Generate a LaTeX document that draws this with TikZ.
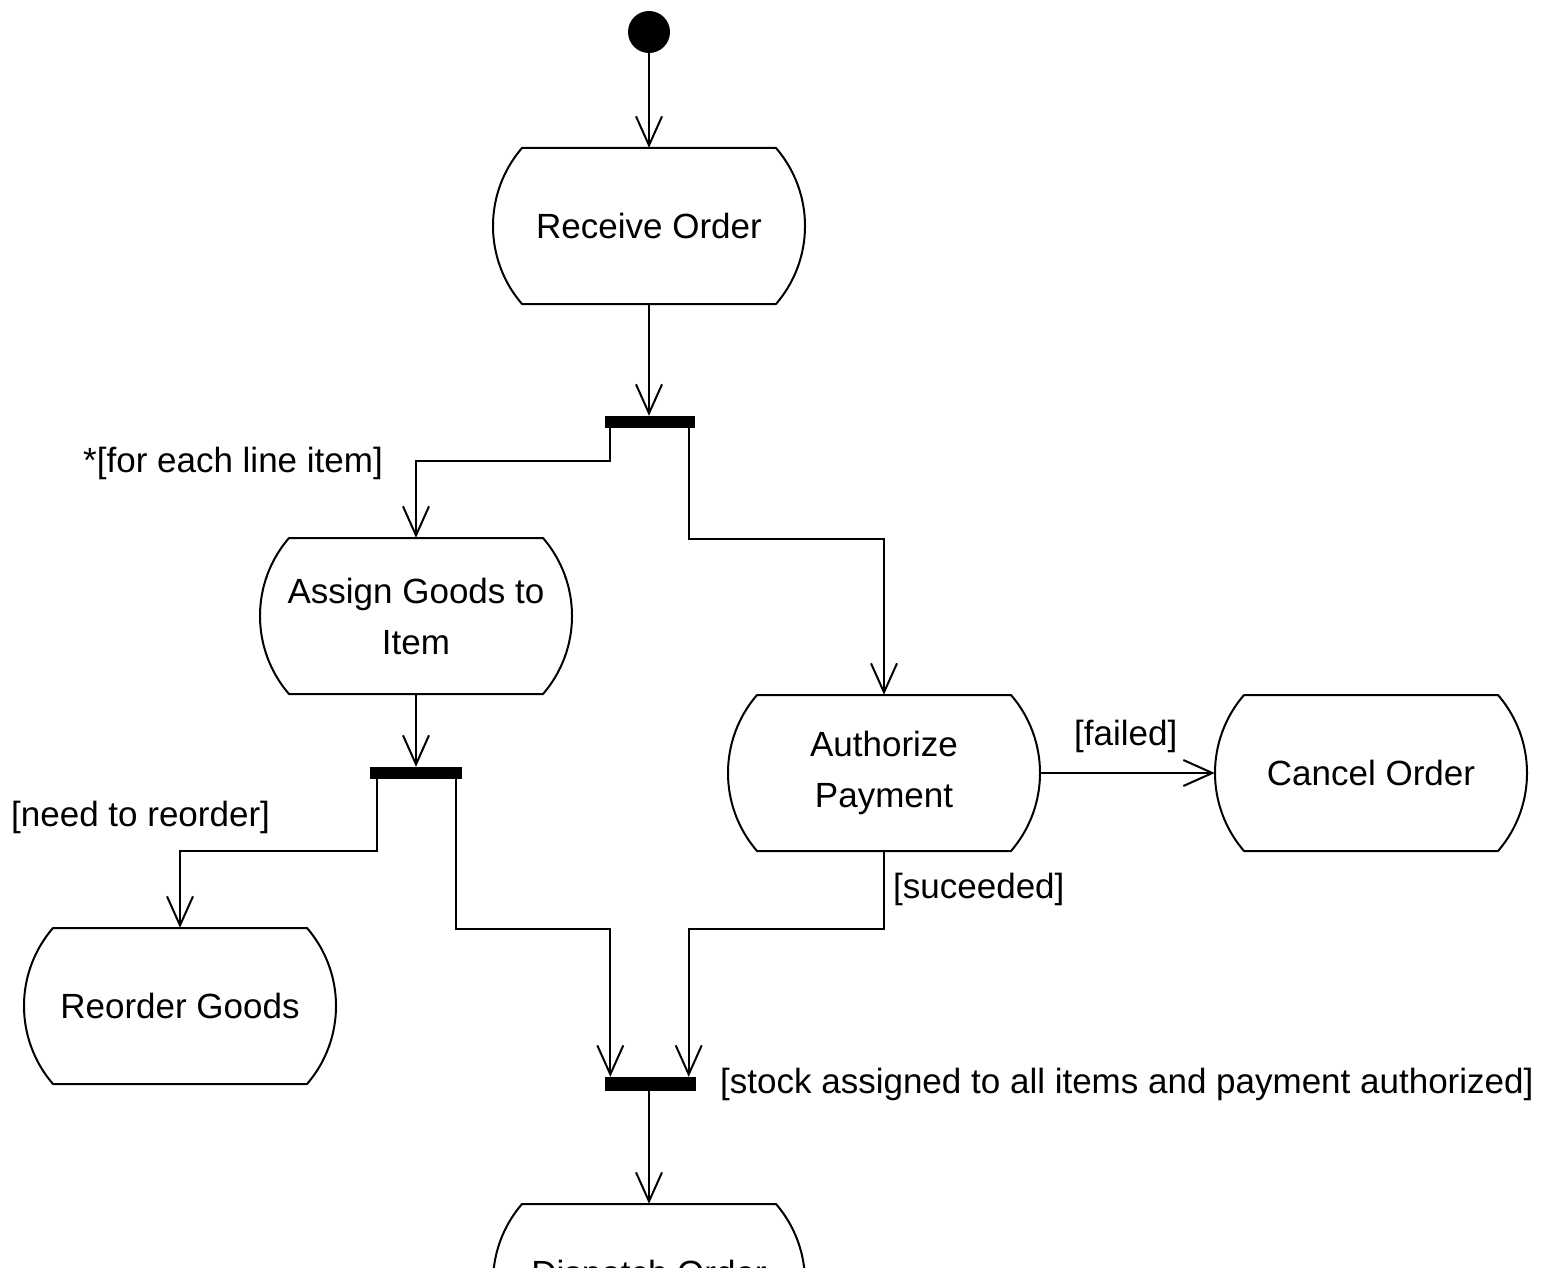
\documentclass[tikz,border=0pt]{standalone}
\usepackage{fontspec}
\setmainfont{Liberation Sans}
\usetikzlibrary{arrows.meta}

\tikzset{
  x=1pt, y=1pt,
  actstate/.style={rectangle, minimum width=312pt, minimum height=156pt,
    inner sep=0pt, align=center, font=\fontsize{35}{51}\selectfont},
  syncbar/.style={rectangle, fill=black, minimum width=90pt,
    minimum height=12pt, inner sep=0pt},
  startdot/.style={circle, fill=black, minimum size=42pt, inner sep=0pt},
  flow/.style={draw, line width=2pt,
    -{Straight Barb[length=29pt,width=26pt]}},
  plainline/.style={draw, line width=2pt},
  guard/.style={font=\fontsize{35}{42}\selectfont, inner sep=0pt},
  stateline/.style={draw, line width=2pt, line join=round}
}

% Outline of an action state: flat top and bottom, bulging round sides
\newcommand\stateoutline[1]{%
  \draw[stateline] ([shift={(-127pt,78pt)}]#1.center)
    -- ([shift={(127pt,78pt)}]#1.center)
    arc[start angle=40.8, end angle=-40.8, radius=119.4pt]
    -- ([shift={(-127pt,-78pt)}]#1.center)
    arc[start angle=220.8, end angle=139.2, radius=119.4pt]
    -- cycle;}

\begin{document}
\begin{tikzpicture}
  \useasboundingbox (0,0) rectangle (1552,-1268);
  \clip (0,0) rectangle (1552,-1268);
  \fill[white] (0,0) rectangle (1552,-1268);

  % states
  \node[startdot] (start) at (649,-32) {};
  \node[actstate] (receive)  at (649,-226)  {Receive Order};
  \node[actstate] (assign)   at (416,-616)  {Assign Goods to\\Item};
  \node[actstate] (auth)     at (884,-773)  {Authorize\\Payment};
  \node[actstate] (cancel)   at (1371,-773) {Cancel Order};
  \node[actstate] (reorder)  at (180,-1006) {Reorder Goods};
  \node[actstate, text depth=19pt] (dispatch) at (649,-1282) {Dispatch Order};

  \foreach \s in {receive,assign,auth,cancel,reorder,dispatch}
    {\stateoutline{\s}}

  % synchronisation bars
  \node[syncbar] (bar1) at (650,-422) {};
  \node[syncbar, minimum width=92pt] (bar2) at (416,-773) {};
  \node[syncbar, minimum width=91pt, minimum height=14pt] (bar3) at (650,-1084) {};

  % transitions
  \draw[flow] (start) -- (receive.north);
  \draw[flow] (receive.south) -- (receive.south |- bar1.north);
  \draw[flow] ([xshift=5pt]bar1.south west) -- ++(0,-33pt) -| (assign.north);
  \draw[flow] ([xshift=-6pt]bar1.south east) -- ++(0,-111pt) -| (auth.north);
  \draw[flow] (assign.south) -- (assign.south |- bar2.north);
  \draw[flow] ([xshift=7pt]bar2.south west) -- ++(0,-72pt) -| (reorder.north);
  \draw[flow] ([xshift=-6pt]bar2.south east) -- ++(0,-150pt) -| ([xshift=6pt]bar3.north west);
  \draw[flow] (auth.south) -- ++(0,-78pt) -| ([xshift=-7pt]bar3.north east);
  \draw[flow] (auth.east) -- (cancel.west);
  \draw[flow] (dispatch.north |- bar3.south) -- (dispatch.north);

  % guards
  \node[guard, anchor=base east] (g-each) at (383,-472) {*[for each line item]};
  \node[guard, anchor=base west] (g-reorder) at (11,-826) {[need to reorder]};
  \node[guard, anchor=base west] (g-failed) at (1074,-745) {[failed]};
  \node[guard, anchor=base west] (g-ok) at (893,-898) {[suceeded]};
  \node[guard, anchor=base west] (g-join) at (720,-1093)
    {[stock assigned to all items and payment authorized]};
\end{tikzpicture}
\end{document}
